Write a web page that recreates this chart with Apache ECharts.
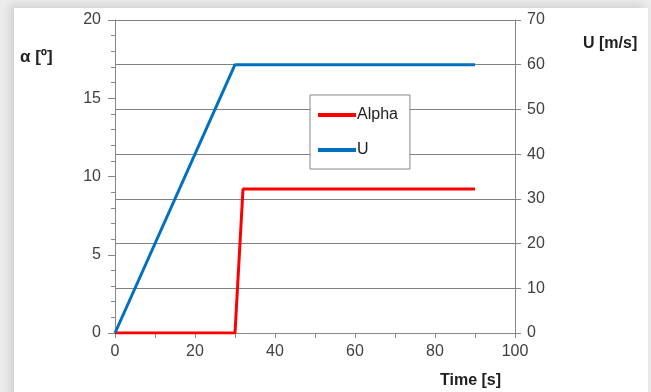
<!DOCTYPE html>
<html>
<head>
<meta charset="utf-8">
<script src="https://cdn.jsdelivr.net/npm/echarts@6/dist/echarts.min.js"></script>
<style>
  html, body { margin: 0; padding: 0; background: #ececec; }
  #frame { position: absolute; left: 14px; top: 8px; width: 634px; height: 400px; background: #fff; box-shadow: -4px -3px 8px rgba(0,0,0,0.12); }
  #chart { position: absolute; left: 0; top: 0; width: 651px; height: 392px; }
</style>
</head>
<body>
<div id="frame"></div>
<div id="chart"></div>
<script>
// time [s] and values
var alphaTime = [0, 30, 32, 90]
var alphaVals = [0, 0, 9.2, 9.2]
var uTime = [0, 30, 90]
var uVals = [0, 60, 60]

var xTicks = [0, 20, 40, 60, 80, 100]
var alphaTicks = [0, 5, 10, 15, 20]
var uTicks = [0, 10, 20, 30, 40, 50, 60, 70]

var pairs = (xs, ys) => xs.map((x, i) => [x, ys[i]])

var font = 'Liberation Sans'
var axisGrey = '#868686'
var labelStyle = { color: '#404040', fontSize: 16, fontFamily: font }

var chart = echarts.init(document.getElementById('chart'), null, { renderer: 'canvas' })
var option = {
  animation: false,
  backgroundColor: 'transparent',
  grid: { left: 115, right: 136, top: 20, bottom: 59 },
  legend: {
    orient: 'vertical',
    left: 310,
    top: 95,
    width: 98,
    padding: [12, 12, 11, 8],
    itemGap: 19,
    itemWidth: 38,
    itemHeight: 4,
    icon: 'rect',
    backgroundColor: '#fff',
    borderColor: '#868686',
    borderWidth: 1,
    borderRadius: 0,
    textStyle: { color: '#202020', fontSize: 16, fontFamily: font, padding: [0, 0, 0, -4] },
    data: ['Alpha', 'U']
  },
  xAxis: {
    type: 'value',
    min: xTicks[0],
    max: xTicks[xTicks.length - 1],
    interval: 20,
    axisLine: { show: true, onZero: false, lineStyle: { color: axisGrey, width: 1 } },
    axisTick: { show: true, length: 5, lineStyle: { color: axisGrey } },
    minorTick: { show: true, splitNumber: 2, length: 5, lineStyle: { color: axisGrey } },
    axisLabel: Object.assign({ margin: 11 }, labelStyle),
    splitLine: { show: false }
  },
  yAxis: [
    {
      type: 'value',
      position: 'left',
      min: alphaTicks[0],
      max: alphaTicks[alphaTicks.length - 1],
      interval: 5,
      axisLine: { show: true, lineStyle: { color: axisGrey, width: 1 } },
      axisTick: { show: true, length: 7, lineStyle: { color: axisGrey } },
      minorTick: { show: true, splitNumber: 5, length: 4, lineStyle: { color: axisGrey } },
      axisLabel: Object.assign({ margin: 14 }, labelStyle),
      splitLine: { show: false }
    },
    {
      type: 'value',
      position: 'right',
      min: uTicks[0],
      max: uTicks[uTicks.length - 1],
      interval: 10,
      axisLine: { show: true, lineStyle: { color: axisGrey, width: 1 } },
      axisTick: { show: true, length: 6, lineStyle: { color: axisGrey } },
      axisLabel: Object.assign({ margin: 12 }, labelStyle),
      splitLine: { show: true, lineStyle: { color: '#808080', width: 1 } }
    }
  ],
  graphic: [
    { type: 'text', left: 20, top: 49, style: { text: 'α [º]', fill: '#202020', font: 'bold 17px ' + font } },
    { type: 'text', left: 583, top: 36, style: { text: 'U [m/s]', fill: '#202020', font: 'bold 16px ' + font } },
    { type: 'text', left: 440, top: 373, style: { text: 'Time [s]', fill: '#202020', font: 'bold 16px ' + font } }
  ],
  series: [
    {
      name: 'Alpha',
      type: 'line',
      yAxisIndex: 0,
      data: pairs(alphaTime, alphaVals),
      showSymbol: false,
      symbol: 'none',
      color: '#ff0000',
      lineStyle: { width: 3, color: '#ff0000' },
      z: 3
    },
    {
      name: 'U',
      type: 'line',
      yAxisIndex: 1,
      data: pairs(uTime, uVals),
      showSymbol: false,
      symbol: 'none',
      color: '#0070c0',
      lineStyle: { width: 3, color: '#0070c0' },
      z: 4
    }
  ]
}
chart.setOption(option)
</script>
</body>
</html>
